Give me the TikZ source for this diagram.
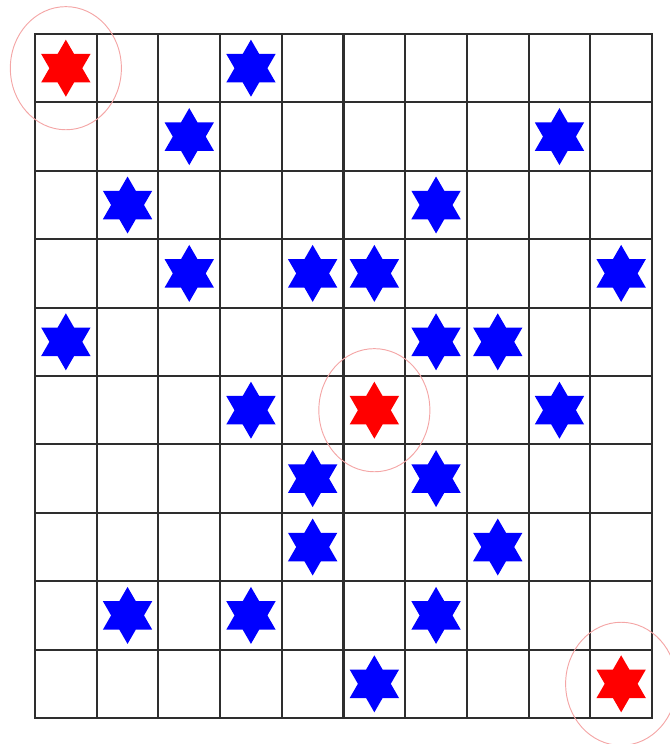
\documentclass[tikz,border=0pt]{standalone}
\usepackage{tikz}
\usetikzlibrary{shapes.geometric}
\definecolor{starblue}{HTML}{0000FF}
\definecolor{starred}{HTML}{FF0000}
\definecolor{ringpink}{HTML}{F4A6A6}
\tikzset{
  % rutnät
  gridline/.style={draw=black!82,line width=1.8pt,line cap=rect},
  % stjärnor
  hexstar/.style={star,star points=6,star point ratio=1.732,inner sep=0pt,
                  minimum size=1.71cm,draw=none},
  bstar/.style={hexstar,fill=starblue},
  rstar/.style={hexstar,fill=starred},
  ring/.style={draw=ringpink,line width=0.8pt},
}
\begin{document}
\begin{tikzpicture}[x=1.851cm,y=-2.052cm]
  \useasboundingbox (-0.5673,-0.4971) rectangle (10.2917,10.380);
  \foreach \k in {0,...,10}{
    \draw[gridline] (\k,0) -- (\k,10);
    \draw[gridline] (0,\k) -- (10,\k);
  }
  % röda
  \node[rstar] (r00) at (0.5,0.5) {};
  \node[rstar] (r55) at (5.5,5.5) {};
  \node[rstar] (r99) at (9.5,9.5) {};
  % blå
  \foreach \r/\c in {0/3,1/2,1/8,2/1,2/6,3/2,3/4,3/5,3/9,4/0,4/6,4/7,
                     5/3,5/8,6/4,6/6,7/4,7/7,8/1,8/3,8/6,9/5}
    \node[bstar] (b\r\c) at (\c+0.5,\r+0.5) {};
  \draw[ring] (r00) circle[radius=0.9];
  \draw[ring] (r55) circle[radius=0.9];
  \draw[ring] (r99) circle[radius=0.9];
\end{tikzpicture}
\end{document}
